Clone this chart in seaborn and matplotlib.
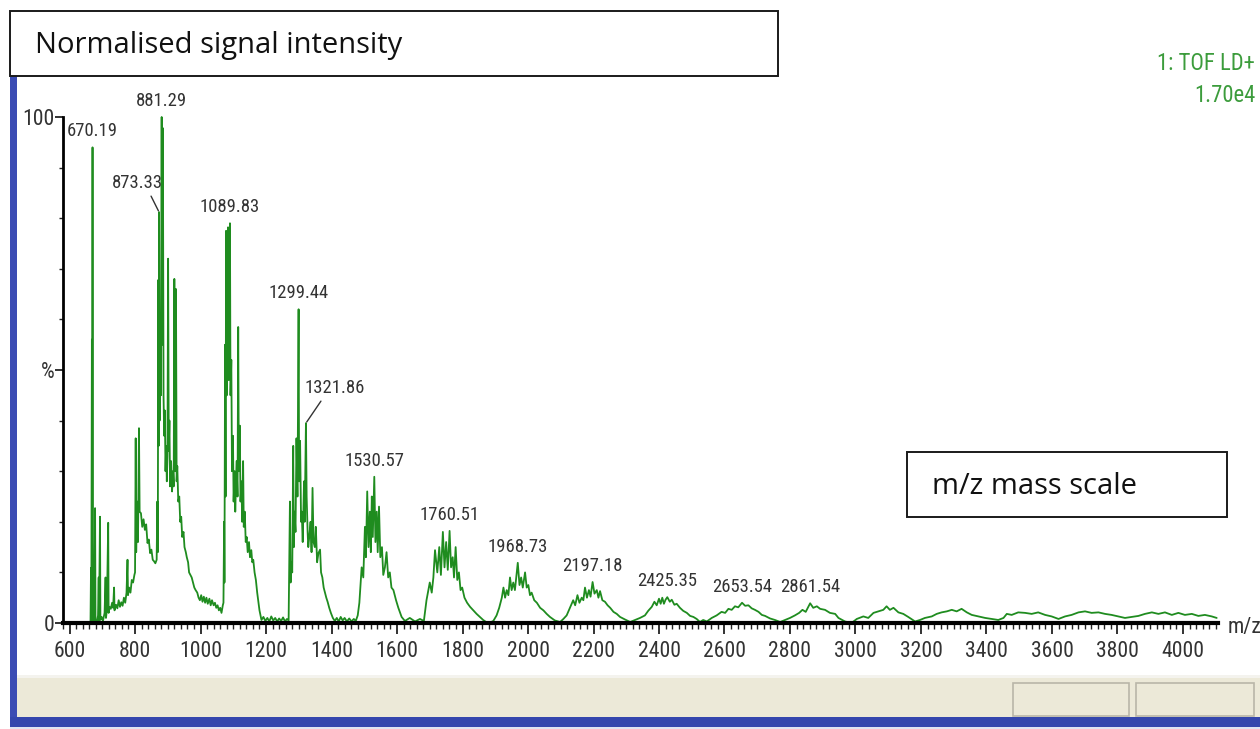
import numpy as np
import pandas as pd
import seaborn as sns
import matplotlib.pyplot as plt
from matplotlib import font_manager
from matplotlib.font_manager import FontProperties
from matplotlib.textpath import TextToPath
from matplotlib.patches import Rectangle
from matplotlib.ticker import MultipleLocator, FixedLocator

# ---------------------------------------------------------------------------
# Spectrum trace (m/z, relative intensity %), one block per peak cluster
# ---------------------------------------------------------------------------
seg_low = [(580, 0), (625, 0), (650, 0.2), (660, 0), (664, 0), (665.5, 10.9), (666.5, 0.3),
           (668.2, 56), (669.2, 0.5), (670.19, 94), (671.2, 0.3), (673, 1), (676, 0.2),
           (678, 22.7), (679.2, 0.5), (683, 0), (687, 1.5), (689, 9), (690, 0.5), (693, 21),
           (694.2, 0.6), (698, 1.2), (702, 0.4), (707, 2), (710, 9), (711.2, 1), (714, 2.5),
           (718, 19.8), (719.3, 2), (722, 3.2), (726, 2.8), (730, 4), (733, 3), (736, 7),
           (737.3, 2.5), (742, 3.6), (746, 2.9), (750, 4.5), (754, 3.2), (758, 4.1), (762, 3.4),
           (766, 5), (770, 4), (774, 6), (777, 12.5), (778.5, 5.5), (782, 7), (786, 6),
           (790, 8.5), (794, 8), (798, 9.5), (800, 10), (802, 36.5), (803.5, 14), (806, 24),
           (809, 16), (812, 38.5), (814, 22), (818, 21.7), (822, 19), (826, 20.5), (830, 18.4),
           (834, 19.5), (838, 15.8), (842, 16.5), (846, 13.8), (850, 14.5), (854, 12.5),
           (858, 12.2), (862, 11.8), (866, 12.5), (868, 24), (869.5, 14)]

seg_881 = [(871, 67.8), (872, 35), (873.33, 81.2), (875, 40), (877, 60), (879, 45),
           (881.29, 100), (883, 55), (885, 97.8), (887, 45), (889, 37), (891, 42), (893, 30),
           (895, 35), (897, 28), (899, 33), (901, 72), (903, 34), (905, 40), (907, 27),
           (910, 32), (913, 26), (916, 30), (918, 27), (920, 68), (922, 30), (925, 66),
           (927, 28), (929, 31), (932, 24), (935, 25), (938, 20), (941, 21), (944, 17),
           (948, 18), (951, 15), (955, 14), (958, 13), (962, 12), (965, 10), (969, 9.5),
           (973, 9), (977, 8), (981, 7), (985, 6.5), (990, 6), (994, 5), (998, 4.5),
           (1002, 5.5), (1006, 4.2), (1010, 5.2), (1014, 4), (1018, 5), (1022, 3.8),
           (1027, 4.8), (1031, 3.5), (1035, 4.5), (1040, 3.5), (1044, 4), (1048, 3),
           (1052, 3.5), (1056, 2.5), (1060, 3), (1064, 2), (1068, 3.5)]

seg_1090 = [(1070, 4), (1072, 20), (1073, 8), (1075, 55), (1076.5, 25), (1078, 77.5),
            (1080, 45), (1082, 60), (1084, 78.2), (1086, 48), (1089.83, 79), (1091.5, 45),
            (1094, 52), (1096, 30), (1099, 37), (1101, 24), (1104, 30), (1106, 22), (1110, 32),
            (1113, 25), (1115, 58.5), (1117, 30), (1120, 39), (1122, 24), (1125, 28),
            (1127, 20), (1130, 32), (1132, 19), (1135, 22), (1138, 16), (1141, 17), (1144, 14),
            (1148, 16), (1151, 13), (1155, 14.4), (1158, 12), (1161, 12.5), (1165, 10),
            (1169, 8.5), (1173, 6), (1176, 4.5), (1180, 2.5), (1186, 0.6), (1192, 1.2),
            (1198, 0.4), (1204, 1.0), (1210, 0.3), (1216, 1.3), (1222, 0.5), (1228, 1.0),
            (1234, 0.3), (1240, 0.9), (1246, 0.4), (1252, 1.1), (1258, 0.3), (1264, 0.8),
            (1269, 0.5)]

seg_1299 = [(1273, 24), (1275, 8), (1277, 12), (1280, 10), (1283, 35), (1285, 15), (1287, 22),
            (1290, 18), (1293, 36.5), (1296, 25), (1299.44, 62), (1301, 28), (1304, 36),
            (1307, 20), (1309, 22), (1312, 16), (1316, 28), (1318, 20), (1321.86, 39.5),
            (1324, 25), (1327, 18), (1329, 15), (1332, 17), (1336, 20), (1339, 14),
            (1342, 26.7), (1345, 16), (1349, 15), (1352, 19), (1356, 12), (1360, 13.8),
            (1365, 14.5), (1368, 10), (1372, 9), (1376, 7), (1380, 6), (1384, 5), (1388, 4.2),
            (1393, 3), (1398, 2), (1404, 1), (1410, 0.4), (1416, 1.0), (1422, 0.3), (1428, 1.2),
            (1434, 0.5), (1440, 1.0), (1447, 0.3), (1454, 0.9), (1461, 0.3), (1468, 0.8),
            (1474, 0.4), (1480, 1.5)]

seg_1530 = [(1485, 4), (1492, 11), (1497, 9), (1502, 19), (1505, 13), (1509, 26), (1513, 15),
            (1517, 22), (1520, 14), (1523, 25), (1526, 17), (1530.57, 28.9), (1534, 16),
            (1538, 22), (1541, 14), (1545, 23), (1549, 13), (1554, 15), (1558, 9.5), (1563, 11),
            (1568, 14), (1573, 9), (1578, 10), (1583, 7), (1589, 6.5), (1597, 4.5), (1604, 3),
            (1614, 1.2), (1624, 0.4), (1639, 1), (1655, 0.3), (1670, 0.8), (1682, 0.4)]

seg_1760 = [(1690, 4.5), (1700, 8), (1706, 6), (1711, 9), (1716, 14.4), (1723, 10), (1729, 15),
            (1734, 9.5), (1740, 18), (1745, 11), (1750, 16), (1755, 10.5), (1760.51, 18.2),
            (1765, 11), (1770, 13), (1774, 9), (1779, 15), (1784, 8.5), (1789, 10), (1794, 6.5),
            (1799, 7), (1806, 5), (1814, 4), (1823, 3.2), (1833, 2.5), (1843, 1.8), (1853, 1.2),
            (1863, 0.6), (1872, 0.2), (1881, 0), (1894, 0.4)]

seg_1969 = [(1904, 1.5), (1912, 3), (1920, 5), (1925, 7), (1930, 5), (1935, 6.5), (1940, 5.5),
            (1945, 9), (1950, 6.5), (1955, 8), (1960, 6.5), (1968.73, 11.9), (1974, 7.5),
            (1979, 9), (1984, 7), (1991, 10), (1996, 7), (2001, 7.5), (2006, 5.5), (2011, 6),
            (2019, 4.5), (2027, 4), (2037, 3), (2047, 2.5), (2057, 1.8), (2067, 1.2),
            (2082, 0.5), (2098, 0.2), (2108, 0.8)]

seg_2197 = [(2118, 1.5), (2128, 3), (2138, 4.5), (2144, 3.5), (2151, 5.5), (2157, 4), (2164, 5),
            (2169, 4.5), (2174, 7), (2180, 5), (2186, 6.5), (2191, 5.2), (2197.18, 8.1),
            (2203, 5.8), (2210, 6.5), (2215, 5), (2220, 6.3), (2227, 4.5), (2235, 4.2),
            (2243, 3.5), (2251, 3), (2261, 2.2), (2271, 1.8), (2281, 1.2), (2296, 0.7),
            (2312, 0.2), (2327, 0.6)]

seg_2425 = [(2342, 1), (2357, 1.5), (2367, 2.4), (2378, 3.2), (2386, 4.2), (2393, 3.5),
            (2400, 4.8), (2405, 3.8), (2410, 5.0), (2415, 3.8), (2420, 4.6), (2425.35, 5.1),
            (2433, 4.2), (2439, 4.6), (2447, 3.6), (2454, 3.8), (2464, 3), (2474, 2.4),
            (2485, 2), (2495, 1.4), (2505, 1.2), (2515, 0.8), (2525, 0.2), (2535, 0.6),
            (2546, 0.3)]

seg_2653 = [(2561, 1), (2576, 1.5), (2591, 2.2), (2602, 2.0), (2612, 2.8), (2622, 2.6),
            (2632, 3.3), (2642, 3.1), (2653.54, 4.0), (2663, 3.4), (2673, 3.5), (2683, 2.9),
            (2693, 2.6), (2704, 2.2), (2714, 1.6), (2724, 1.4), (2739, 0.9), (2754, 0.6),
            (2770, 0.2), (2785, 0.6)]

seg_2861 = [(2800, 1), (2815, 1.5), (2828, 2.0), (2838, 2.6), (2848, 2.2), (2856, 3.2),
            (2861.54, 3.9), (2871, 3.0), (2882, 3.3), (2892, 2.8), (2907, 2.6), (2922, 2.0),
            (2938, 1.8), (2948, 1.0), (2968, 0.3), (2988, 0)]

seg_high = [(3004, 0.8), (3024, 1.3), (3039, 1.0), (3055, 2.0), (3070, 2.3), (3085, 2.6),
            (3095, 3.3), (3105, 2.6), (3116, 3.0), (3131, 2.1), (3146, 1.8), (3161, 1.2),
            (3182, 0.3), (3197, 0.6), (3212, 1.0), (3233, 1.3), (3248, 1.8), (3263, 2.1),
            (3279, 2.3), (3294, 2.6), (3309, 2.3), (3324, 2.8), (3340, 2.1), (3355, 1.6),
            (3375, 1.3), (3396, 1.0), (3416, 0.8), (3436, 0.6), (3452, 1.0), (3462, 1.8),
            (3477, 1.6), (3497, 2.1), (3518, 2.0), (3538, 1.8), (3558, 2.1), (3579, 1.6),
            (3599, 1.3), (3620, 0.8), (3640, 1.3), (3660, 1.6), (3681, 2.1), (3701, 2.3),
            (3721, 2.0), (3742, 2.1), (3762, 1.8), (3782, 1.6), (3803, 1.3), (3823, 1.0),
            (3843, 1.2), (3864, 1.4), (3884, 1.8), (3905, 2.1), (3925, 1.8), (3945, 2.1),
            (3966, 1.6), (3986, 2.0), (4006, 1.6), (4027, 1.8), (4047, 1.4), (4067, 1.6),
            (4088, 1.3), (4103, 1.0)]

# Annotated peak centroids
peak_mz = [670.19, 873.33, 881.29, 1089.83, 1299.44, 1321.86, 1530.57, 1760.51,
           1968.73, 2197.18, 2425.35, 2653.54, 2861.54]
peak_text = ["670.19", "873.33", "881.29", "1089.83", "1299.44", "1321.86", "1530.57",
             "1760.51", "1968.73", "2197.18", "2425.35", "2653.54", "2861.54"]

x_ticks = list(range(600, 4001, 200))
y_ticks = [0, 50, 100]
y_tick_text = ["0", "%", "100"]

title_text = "Normalised signal intensity"
axis_note = "m/z mass scale"
header_lines = ["1: TOF LD+", "1.70e4"]

# ---------------------------------------------------------------------------
segments = [seg_low, seg_881, seg_1090, seg_1299, seg_1530, seg_1760, seg_1969,
            seg_2197, seg_2425, seg_2653, seg_2861, seg_high]
pts = np.array([p for seg in segments for p in seg])
spectrum = pd.DataFrame({"mz": pts[:, 0], "intensity": pts[:, 1]})

W, H = 1260, 729
DPI = 100
sns.set_theme(style="white")


def pick_instrument_font():
    """A narrow Arial-like face if one is installed, else plain Liberation Sans."""
    for fam in ["Liberation Sans Narrow", "Arial Narrow", "Roboto Condensed", "DejaVu Sans"]:
        try:
            path = font_manager.findfont(FontProperties(family=fam, stretch="condensed"),
                                         fallback_to_default=False)
        except Exception:
            continue
        if "Narrow" in path or "Condensed" in path:
            return fam, "condensed"
    return "Liberation Sans", "normal"


inst_family, inst_stretch = pick_instrument_font()
plt.rcParams["font.family"] = [inst_family, "DejaVu Sans"]
plt.rcParams["font.stretch"] = inst_stretch

_ttp = TextToPath()


def size_for_width(sample, width_px):
    """Font size (pt) at which `sample` is rendered `width_px` pixels wide."""
    fp = FontProperties(family=[inst_family, "DejaVu Sans"], stretch=inst_stretch, size=10)
    w, _, _ = _ttp.get_text_width_height_descent(sample, fp, ismath=False)
    return 10 * width_px / (w * DPI / 72)


tick_size = min(18, size_for_width("3400", 43))
peak_size = min(16, size_for_width("1089.83", 60))
head_size = min(18, size_for_width("1: TOF LD+", 98))

fig = plt.figure(figsize=(W / DPI, H / DPI), dpi=DPI)
fig.patch.set_facecolor("white")


def fx(x):
    return x / W


def fy(y):
    return 1 - y / H


ax_left, ax_right, ax_bottom, ax_top = 63, 1218, 623, 117
ax = fig.add_axes([fx(ax_left), fy(ax_bottom), (ax_right - ax_left) / W, (ax_bottom - ax_top) / H])
ax.set_facecolor("white")

green = "#1f8c1f"
sns.lineplot(data=spectrum, x="mz", y="intensity", sort=False, estimator=None,
             color=green, linewidth=1.3, ax=ax)
for ln in ax.lines:
    ln.set_clip_on(False)

ax.set_xlim(580, 4107)
ax.set_ylim(0, 100)
ax.set_xlabel("")
ax.set_ylabel("")

for side in ("top", "right"):
    ax.spines[side].set_visible(False)
ax.spines["left"].set_color("black")
ax.spines["left"].set_linewidth(2)
ax.spines["bottom"].set_color("black")
ax.spines["bottom"].set_linewidth(3)
ax.spines["bottom"].set_zorder(5)

tick_color = "#333333"
ax.xaxis.set_major_locator(FixedLocator(x_ticks))
ax.xaxis.set_minor_locator(MultipleLocator(20))
ax.set_xticklabels([str(v) for v in x_ticks])
ax.yaxis.set_major_locator(FixedLocator(y_ticks))
ax.yaxis.set_minor_locator(MultipleLocator(10))
ax.set_yticklabels(y_tick_text)
ax.tick_params(axis="x", which="major", direction="out", length=8, width=1.3,
               color="#222222", labelsize=tick_size, labelcolor=tick_color, pad=5, bottom=True)
ax.tick_params(axis="x", which="minor", direction="out", length=4, width=1.0,
               color="#222222", bottom=True)
ax.tick_params(axis="y", which="major", direction="out", length=6, width=1.3,
               color="#222222", labelsize=tick_size, labelcolor=tick_color, pad=0, left=True)
ax.tick_params(axis="y", which="minor", direction="out", length=3, width=1.0,
               color="#222222", left=True)

# Peak labels sit a fixed distance above each centroid; two use leader lines
label_offsets = {"873.33": (-22, 29), "1321.86": (29, 35)}
peak_heights = np.interp(peak_mz, spectrum["mz"], spectrum["intensity"])
for mz, h, txt in zip(peak_mz, peak_heights, peak_text):
    dx, dy = label_offsets.get(txt, (0, 16))
    ax.annotate(txt, xy=(mz, h), xytext=(dx, dy), textcoords="offset pixels",
                ha="center", va="center", fontsize=peak_size, color=tick_color,
                annotation_clip=False)
    if txt in label_offsets:
        sx = -1 if dx < 0 else 1
        ax.annotate("", xy=(mz, h), xytext=(dx - sx * 14, dy - 13),
                    textcoords="offset pixels", annotation_clip=False,
                    arrowprops=dict(arrowstyle="-", color="#333333", lw=1.0,
                                    shrinkA=0, shrinkB=1))

fig.text(fx(1228), fy(628), "m/z", fontsize=tick_size, color=tick_color, ha="left", va="center")

# Instrument header, top right
header_green = "#3c9c3c"
fig.text(fx(1255), fy(64), header_lines[0], fontsize=head_size, color=header_green,
         ha="right", va="center")
fig.text(fx(1255), fy(96), header_lines[1], fontsize=head_size, color=header_green,
         ha="right", va="center")

# Window chrome: left frame bar, status bar and bottom frame bar
chrome = [
    ((10, 76), (17, 720), "#3b4cb4", "none"),
    ((17, 678), (1260, 717), "#ece9d8", "none"),
    ((17, 675), (1260, 678), "#f4f3ee", "none"),
    ((1013, 683), (1129, 716), "#ece9d8", "#b9b6a8"),
    ((1136, 683), (1254, 716), "#ece9d8", "#b9b6a8"),
    ((10, 717), (1260, 727), "#3446ad", "none"),
    ((10, 727), (1260, 729), "#dfe3f2", "none"),
]
for (x0, y0), (x1, y1), fc, ec in chrome:
    fig.add_artist(Rectangle((fx(x0), fy(y1)), fx(x1) - fx(x0), fy(y0) - fy(y1),
                             transform=fig.transFigure, facecolor=fc, edgecolor=ec,
                             linewidth=1.2, zorder=3))

# Caption boxes
boxes = [((10, 11), (778, 76), title_text, 35),
         ((907, 452), (1227, 517), axis_note, 932)]
for (x0, y0), (x1, y1), txt, tx in boxes:
    fig.add_artist(Rectangle((fx(x0), fy(y1)), fx(x1) - fx(x0), fy(y0) - fy(y1),
                             transform=fig.transFigure, facecolor="white",
                             edgecolor="#1a1a1a", linewidth=1.4, zorder=6))
    fig.text(fx(tx), fy((y0 + y1) / 2 + 2), txt, fontsize=21,
             family=["Open Sans", "DejaVu Sans"], fontstretch="normal",
             color="#111111", ha="left", va="center", zorder=7)

fig.savefig("out.png", dpi=DPI, facecolor="white")
